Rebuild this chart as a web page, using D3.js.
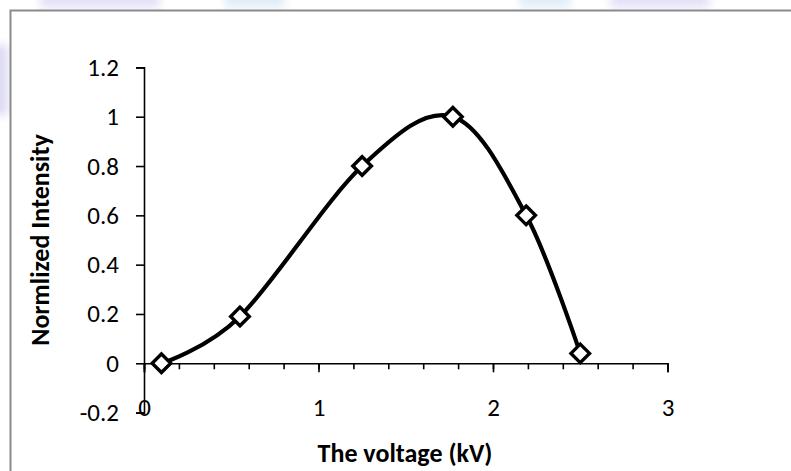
<!DOCTYPE html>
<html>
<head>
<meta charset="utf-8">
<script src="https://cdn.jsdelivr.net/npm/d3@7"></script>
<style>
  body { margin: 0; background: #fff; }
  svg { display: block; }
</style>
</head>
<body>
<script>
// data
const voltage = [0.1, 0.55, 1.25, 1.77, 2.19, 2.5];
const intensity = [0, 0.19, 0.8, 1.0, 0.6, 0.04];
const yTicks = [-0.2, 0, 0.2, 0.4, 0.6, 0.8, 1, 1.2];
const yTickLabels = ["-0.2", "0", "0.2", "0.4", "0.6", "0.8", "1", "1.2"];
const xTicks = [0, 1, 2, 3];
const xMinorTicks = d3.range(0, 3.0001, 0.2);

const W = 791, H = 471;
const font = "Carlito, Calibri, Lato, sans-serif";

const svg = d3.select("body").append("svg")
    .attr("width", W)
    .attr("height", H);

// faint watermark behind the chart box
const defs = svg.append("defs");
defs.append("filter").attr("id", "blur")
    .append("feGaussianBlur").attr("stdDeviation", 5);
const wm = [
    { x: 40, y: -12, w: 120, h: 20, c: "#e4e1f7" },
    { x: 225, y: -12, w: 60, h: 20, c: "#e0edf7" },
    { x: 520, y: -12, w: 50, h: 20, c: "#e0edf7" },
    { x: 610, y: -12, w: 100, h: 20, c: "#e4e1f7" },
    { x: -12, y: 45, w: 20, h: 70, c: "#dcdaf3" }
];
svg.append("g").attr("filter", "url(#blur)")
    .selectAll("rect").data(wm).enter().append("rect")
    .attr("x", d => d.x).attr("y", d => d.y)
    .attr("width", d => d.w).attr("height", d => d.h)
    .attr("fill", d => d.c);

// chart area border
svg.append("rect")
    .attr("x", 10.5).attr("y", 10.5)
    .attr("width", 800).attr("height", 480)
    .attr("fill", "#fff")
    .attr("stroke", "#8a8a8a")
    .attr("stroke-width", 2);

// scales
let xScale = d3.scaleLinear()
    .domain([0, 3])
    .range([144, 667.5]);

let yScale = d3.scaleLinear()
    .domain([-0.2, 1.2])
    .range([412.6, 67.4]);

const y0 = yScale(0);

// y axis
const yAxis = svg.append("g")
    .attr("transform", "translate(" + xScale(0) + ",0)")
    .call(d3.axisLeft(yScale).tickValues(yTicks).tickSize(8).tickPadding(17)
        .tickFormat((d, i) => yTickLabels[i]));
yAxis.select(".domain").attr("stroke", "#000").attr("stroke-width", 1.6);
yAxis.selectAll(".tick line").attr("stroke", "#000").attr("stroke-width", 1.6);
yAxis.selectAll("text")
    .style("font-family", font)
    .style("font-size", "25px")
    .attr("fill", "#000");

// x axis minor ticks
const xMinor = svg.append("g")
    .attr("transform", "translate(0," + y0 + ")")
    .call(d3.axisBottom(xScale).tickValues(xMinorTicks).tickSize(6).tickFormat(""));
xMinor.select(".domain").remove();
xMinor.selectAll(".tick line").attr("stroke", "#000").attr("stroke-width", 1.6);

// x axis major
const xAxis = svg.append("g")
    .attr("transform", "translate(0," + y0 + ")")
    .call(d3.axisBottom(xScale).tickValues(xTicks).tickSize(9).tickSizeOuter(9)
        .tickFormat(d3.format("d")));
xAxis.select(".domain").attr("stroke", "#000").attr("stroke-width", 1.6);
xAxis.selectAll(".tick line").attr("stroke", "#000").attr("stroke-width", 1.6);
xAxis.selectAll("text")
    .attr("y", 416 - y0)
    .attr("dy", 0)
    .style("font-family", font)
    .style("font-size", "25px")
    .attr("fill", "#000");

// axis titles
svg.append('text')
    .attr('text-anchor', 'middle')
    .attr('transform', "translate(" + 49 + "," + 240 + ")rotate(-90)")
    .style('font-family', font)
    .style('font-size', '26px')
    .style('font-weight', 'bold')
    .text('Normlized Intensity');

svg.append('text')
    .attr('text-anchor', 'middle')
    .attr('transform', "translate(" + 405 + "," + 462 + ")")
    .style('font-family', font)
    .style('font-size', '26px')
    .style('font-weight', 'bold')
    .text('The voltage (kV)');

// smoothed line
const pts = voltage.map((v, i) => ({ v: v, y: intensity[i] }));
const line = d3.line()
    .x(d => xScale(d.v))
    .y(d => yScale(d.y))
    .curve(d3.curveCardinal.tension(0));

svg.append('path')
    .datum(pts)
    .attr('d', line)
    .attr('fill', 'none')
    .attr('stroke', '#000')
    .attr('stroke-width', 4.2);

// diamond markers
const dia = d3.symbol().type(d3.symbolDiamond2).size(220);
svg.selectAll('.marker')
    .data(pts)
    .enter()
    .append('path')
    .attr('class', 'marker')
    .attr('transform', d => "translate(" + xScale(d.v) + "," + yScale(d.y) + ")")
    .attr('d', dia)
    .attr('fill', '#fff')
    .attr('stroke', '#000')
    .attr('stroke-width', 3.4)
    .attr('stroke-linejoin', 'miter');
</script>
</body>
</html>
